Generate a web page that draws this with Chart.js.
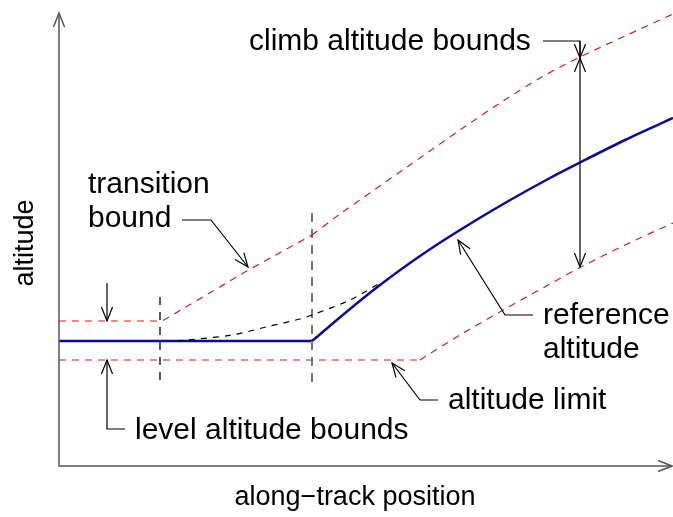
<!DOCTYPE html>
<html>
<head>
<meta charset="utf-8">
<script src="https://cdn.jsdelivr.net/npm/chart.js@4/dist/chart.umd.min.js"></script>
<style>
  html, body { margin: 0; padding: 0; background: #fff; }
  #wrap { width: 673px; height: 517px; position: relative; }
</style>
</head>
<body>
<div id="wrap"><canvas id="chart"></canvas></div>
<script>
// schematic units: x = along-track position, y = altitude (origin at axis corner)
const refLevel = [[0, 125], [253, 125]];
const refClimb = [[253, 125], [291, 157], [321, 181], [361, 210], [401, 236], [446, 263], [491, 288], [522, 304], [566, 326], [614, 348]];
const upperLevel = [[0, 145], [101, 145], [105, 146], [186, 194], [253, 231]];
const upperClimb = [[253, 231], [281, 252], [348, 299], [401, 336], [441, 363], [481, 388], [521, 409], [566, 430], [614, 452]];
const lowerLevel = [[0, 106], [361, 106]];
const lowerClimb = [[361, 106], [401, 131], [446, 157], [491, 182], [522, 199], [566, 221], [614, 243]];
const transitionRef = [[118, 125], [173, 131], [211, 140], [241, 147], [253, 151], [291, 166], [321, 183]];
const startFix = [[101, 86], [101, 170]];
const climbFix = [[253, 84], [253, 258]];

const labels = [
  { text: "climb altitude bounds", at: [190, 416] },
  { text: "transition", at: [29, 273] },
  { text: "bound", at: [29, 239] },
  { text: "reference", at: [484, 142] },
  { text: "altitude", at: [484, 108] },
  { text: "altitude limit", at: [389, 57] },
  { text: "level altitude bounds", at: [76, 27] }
];

// leader lines: path points, last point is the arrow tip
const leaders = [
  [[484, 425], [521, 425], [521, 408]],
  [[521, 425], [521, 199]],
  [[123, 246], [152, 246], [189, 199]],
  [[474, 151], [446, 151], [399, 226]],
  [[379, 66], [361, 66], [333, 103]],
  [[48, 183], [48, 145]],
  [[66, 37], [48, 37], [48, 106]]
];

const toXY = arr => arr.map(p => ({ x: p[0], y: p[1] }));

const red = "#cc1f1f";
const blue = "#0a0a9a";

function line(data, color, width, dash, tension) {
  return {
    data: toXY(data),
    borderColor: color,
    borderWidth: width,
    borderDash: dash,
    pointRadius: 0,
    tension: tension,
    fill: false,
    clip: false
  };
}

function arrowHead(ctx, tx, ty, fx, fy) {
  const a = Math.atan2(ty - fy, tx - fx);
  const len = 15, spread = 0.38;
  ctx.beginPath();
  ctx.moveTo(tx - len * Math.cos(a - spread), ty - len * Math.sin(a - spread));
  ctx.lineTo(tx, ty);
  ctx.lineTo(tx - len * Math.cos(a + spread), ty - len * Math.sin(a + spread));
  ctx.stroke();
}

const sketchPlugin = {
  id: "sketch",
  afterDatasetsDraw(chart) {
    const { ctx } = chart;
    const sx = chart.scales.x, sy = chart.scales.y;
    const px = v => sx.getPixelForValue(v);
    const py = v => sy.getPixelForValue(v);
    ctx.save();

    // axes with open arrows
    ctx.strokeStyle = "#555";
    ctx.lineWidth = 1.5;
    ctx.setLineDash([]);
    ctx.beginPath();
    ctx.moveTo(px(0), py(452));
    ctx.lineTo(px(0), py(0));
    ctx.lineTo(px(613), py(0));
    ctx.stroke();
    arrowHead(ctx, px(0), py(453), px(0), py(400));
    arrowHead(ctx, px(613), py(0), px(500), py(0));

    // leaders
    ctx.strokeStyle = "#000";
    ctx.lineWidth = 1.2;
    leaders.forEach(path => {
      ctx.beginPath();
      path.forEach((p, i) => {
        if (i === 0) ctx.moveTo(px(p[0]), py(p[1]));
        else ctx.lineTo(px(p[0]), py(p[1]));
      });
      ctx.stroke();
      const tip = path[path.length - 1], prev = path[path.length - 2];
      arrowHead(ctx, px(tip[0]), py(tip[1]), px(prev[0]), py(prev[1]));
    });
    // the climb bounds arrow points both ways
    arrowHead(ctx, px(521), py(408), px(521), py(300));

    // texts
    ctx.fillStyle = "#000";
    ctx.font = "30px 'Liberation Sans', Arial, sans-serif";
    ctx.textBaseline = "alphabetic";
    ctx.textAlign = "left";
    labels.forEach(l => ctx.fillText(l.text, px(l.at[0]), py(l.at[1])));

    ctx.font = "27px 'Liberation Sans', Arial, sans-serif";
    ctx.textAlign = "center";
    ctx.fillText("along\u2212track position", px(296), py(-39));
    ctx.translate(px(-26), py(223));
    ctx.rotate(-Math.PI / 2);
    ctx.fillText("altitude", 0, 0);
    ctx.restore();
  }
};

new Chart(document.getElementById("chart"), {
  type: "line",
  data: {
    datasets: [
      line(lowerLevel, red, 1.2, [7, 6], 0),
      line(lowerClimb, red, 1.2, [7, 6], 0.3),
      line(upperLevel, red, 1.2, [7, 6], 0),
      line(upperClimb, red, 1.2, [7, 6], 0.3),
      line(transitionRef, "#000", 1.2, [6, 6], 0.3),
      line(startFix, "#000", 1.3, [8, 7], 0),
      line(climbFix, "#777", 2, [9, 7], 0),
      line(refLevel, blue, 2.5, [], 0),
      line(refClimb, blue, 2.5, [], 0.3)
    ]
  },
  options: {
    responsive: true,
    maintainAspectRatio: false,
    animation: false,
    layout: { padding: { left: 59, right: 0, top: 14, bottom: 51 } },
    plugins: { legend: { display: false }, tooltip: { enabled: false } },
    scales: {
      x: { type: "linear", min: 0, max: 614, display: false },
      y: { type: "linear", min: 0, max: 452, display: false }
    }
  },
  plugins: [sketchPlugin]
});
</script>
</body>
</html>
